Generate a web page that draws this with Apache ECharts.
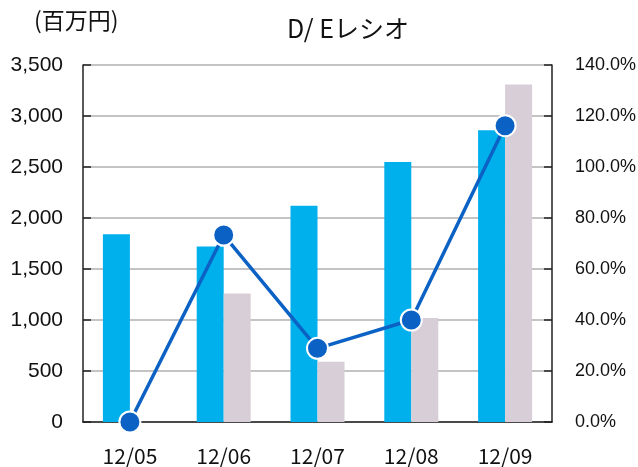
<!DOCTYPE html>
<html><head><meta charset="utf-8">
<script src="https://cdn.jsdelivr.net/npm/echarts@6/dist/echarts.min.js"></script>
<style>html,body{margin:0;padding:0;background:#fff}#c{width:638px;height:467px}</style>
</head><body><div id="c"></div>
<script>
var categories = ['12/05', '12/06', '12/07', '12/08', '12/09'];
var debtValues = [1840, 1720, 2120, 2550, 2860];
var equityValues = [null, 1260, 590, 1020, 3310];
var deRatio = [0.0, 73.3, 28.9, 40.0, 116.2];
var leftTicks = {min: 0, max: 3500, interval: 500};
var rightTicks = {min: 0, max: 140, interval: 20};

var numFont = '"Liberation Sans", Arial, sans-serif';
var cjkFont = '"Noto Sans CJK JP", sans-serif';
var chart = echarts.init(document.getElementById('c'));
chart.setOption({
  animation: false,
  backgroundColor: '#fff',
  title: {
    text: 'D/ Eレシオ', left: 343, top: 11, textAlign: 'center',
    textStyle: {fontFamily: cjkFont, fontSize: 25, fontWeight: 'normal', color: '#111'}
  },
  graphic: [{
    type: 'text', left: 34, top: 9,
    style: {text: '(百万円)', font: '23px "Noto Sans CJK JP", sans-serif', fill: '#111'}
  }],
  grid: {left: 83, right: 86, top: 65, bottom: 45, containLabel: false, outerBoundsMode: 'none'},
  xAxis: {
    type: 'category', data: categories,
    axisLine: {lineStyle: {color: '#222', width: 1.5}},
    axisTick: {inside: true, length: 8, lineStyle: {color: '#222', width: 1.2}},
    axisLabel: {margin: 24, fontFamily: cjkFont, fontSize: 21, color: '#111'}
  },
  yAxis: [{
    type: 'value', min: leftTicks.min, max: leftTicks.max, interval: leftTicks.interval,
    axisLine: {show: true, lineStyle: {color: '#222', width: 1.5}},
    axisTick: {show: true, inside: true, length: 8, lineStyle: {color: '#222', width: 1.5}},
    splitLine: {lineStyle: {color: '#c4c4c4', width: 2}},
    axisLabel: {margin: 20, fontFamily: numFont, fontSize: 21, color: '#111',
      formatter: function (v) { return v.toLocaleString('en-US'); }}
  }, {
    type: 'value', min: rightTicks.min, max: rightTicks.max, interval: rightTicks.interval,
    axisLine: {show: true, lineStyle: {color: '#222', width: 1.5}},
    axisTick: {show: true, inside: true, length: 8, lineStyle: {color: '#222', width: 1.5}},
    splitLine: {show: false},
    axisLabel: {margin: 23, fontFamily: numFont, fontSize: 18, color: '#111',
      formatter: function (v) { return v.toFixed(1) + '%'; }}
  }],
  series: [{
    type: 'bar', data: debtValues, barWidth: 27, barGap: '0%',
    itemStyle: {color: '#00b0ec'}
  }, {
    type: 'bar', data: equityValues, barWidth: 27, barGap: '0%',
    itemStyle: {color: '#d8ced8'}
  }, {
    type: 'line', yAxisIndex: 1, data: deRatio, clip: false, z: 5,
    symbol: 'circle', symbolSize: 21,
    lineStyle: {color: '#0b62c4', width: 3.5},
    itemStyle: {color: '#0b62c4', borderColor: '#fff', borderWidth: 2}
  }]
});
</script></body></html>
